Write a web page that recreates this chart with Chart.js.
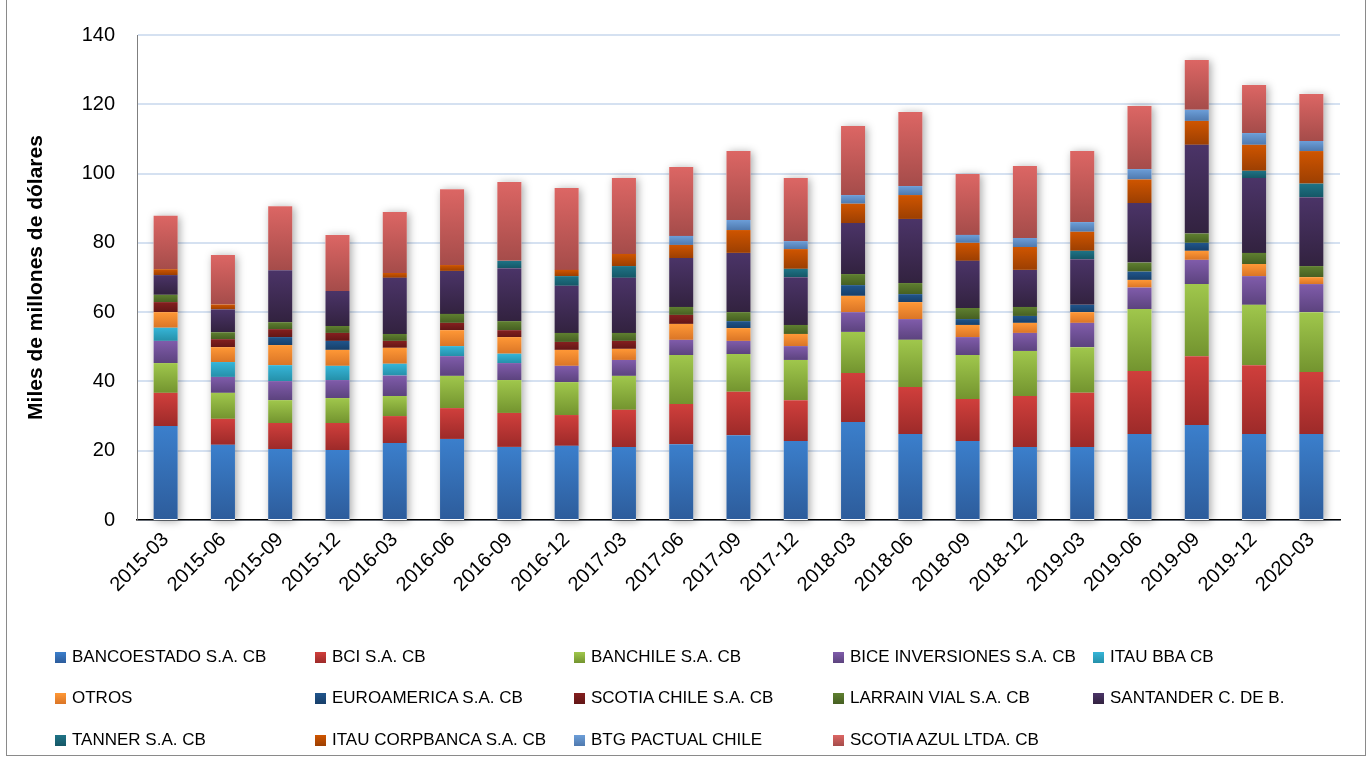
<!DOCTYPE html>
<html>
<head>
<meta charset="utf-8">
<script src="https://cdn.jsdelivr.net/npm/chart.js@4.4.1/dist/chart.umd.min.js"></script>
<style>
  html, body { margin: 0; padding: 0; background: #fff; }
  #wrap { position: relative; width: 1372px; height: 758px; overflow: hidden; font-family: "Liberation Sans", Arial, sans-serif; }
  #frame { position: absolute; left: 6px; top: -2px; width: 1360px; height: 758px; border: 1px solid #8a8a8a; box-sizing: border-box; }
  #chartBox { position: absolute; left: 0; top: 0; width: 1372px; height: 620px; }
  #legend { position: absolute; left: 0; top: 0; width: 1372px; height: 758px; pointer-events: none; }
  .item { position: absolute; display: flex; align-items: center; font-size: 17px; color: #000; white-space: nowrap; transform: translateY(-50%); }
  .box { width: 11px; height: 11px; margin-right: 6px; }
</style>
</head>
<body>
<div id="wrap">
  <div id="frame"></div>
  <div id="chartBox"><canvas id="stackChart" width="1372" height="620"></canvas></div>
  <div id="legend"></div>
</div>
<script>
// Trimestres
const labels = ['2015-03', '2015-06', '2015-09', '2015-12', '2016-03', '2016-06', '2016-09', '2016-12',
    '2017-03', '2017-06', '2017-09', '2017-12', '2018-03', '2018-06', '2018-09', '2018-12',
    '2019-03', '2019-06', '2019-09', '2019-12', '2020-03'];

// Miles de millones de dólares por corredora
const bancoEstado = [27.1, 21.7, 20.5, 20.2, 22.2, 23.4, 21.1, 21.4, 21.1, 21.9, 24.5, 22.8, 28.3, 24.8, 22.8, 21.1, 21.1, 24.8, 27.4, 24.8, 24.8];
const bci = [9.6, 7.5, 7.5, 7.8, 7.8, 8.9, 9.8, 8.9, 10.7, 11.6, 12.5, 11.8, 14.1, 13.6, 12.1, 14.7, 15.6, 18.2, 19.9, 19.9, 17.9];
const banchile = [8.6, 7.5, 6.6, 7.2, 5.8, 9.3, 9.5, 9.5, 9.8, 14.1, 10.9, 11.6, 11.9, 13.6, 12.7, 13.0, 13.2, 17.9, 20.8, 17.4, 17.3];
const bice = [6.4, 4.6, 5.5, 5.2, 5.9, 5.7, 4.9, 4.7, 4.6, 4.4, 3.8, 4.0, 5.7, 6.0, 5.2, 5.2, 7.0, 6.2, 7.0, 8.3, 8.1];
const itauBba = [3.8, 4.3, 4.6, 4.1, 3.4, 2.9, 2.7, 0, 0, 0, 0, 0, 0, 0, 0, 0, 0, 0, 0, 0, 0];
const otros = [4.5, 4.3, 5.8, 4.6, 4.6, 4.6, 4.8, 4.6, 3.2, 4.6, 3.7, 3.5, 4.7, 4.9, 3.5, 2.9, 3.1, 2.2, 2.6, 3.5, 2.0];
const euroamerica = [0, 0, 2.3, 2.6, 0, 0, 0, 0, 0, 0, 2.0, 0, 3.1, 2.3, 1.7, 2.0, 2.1, 2.4, 2.3, 0, 0];
const scotiaChile = [2.9, 2.3, 2.3, 2.3, 2.0, 2.1, 2.0, 2.3, 2.3, 2.6, 0, 0, 0, 0, 0, 0, 0, 0, 0, 0, 0];
const larrainVial = [2.1, 2.0, 2.0, 2.0, 2.0, 2.6, 2.6, 2.6, 2.3, 2.3, 2.6, 2.6, 3.2, 3.2, 3.2, 2.6, 0, 2.6, 2.7, 3.2, 3.2];
const santander = [5.7, 6.6, 15.0, 10.1, 16.2, 12.4, 15.3, 13.6, 15.9, 14.1, 17.1, 13.8, 14.7, 18.5, 13.6, 10.7, 13.2, 17.2, 25.6, 21.6, 19.9];
const tanner = [0, 0, 0, 0, 0, 0, 2.1, 2.8, 3.4, 0, 0, 2.4, 0, 0, 0, 0, 2.4, 0, 0, 2.1, 3.9];
const itauCorpbanca = [1.7, 1.4, 0, 0, 1.4, 1.7, 0, 1.8, 3.5, 3.8, 6.6, 5.7, 5.6, 6.9, 5.2, 6.6, 5.5, 6.8, 6.9, 7.5, 9.4];
const btgPactual = [0, 0, 0, 0, 0, 0, 0, 0, 0, 2.6, 2.9, 2.3, 2.5, 2.6, 2.3, 2.6, 2.8, 3.0, 3.2, 3.4, 2.9];
const scotiaAzul = [15.4, 14.3, 18.5, 16.2, 17.6, 21.9, 22.8, 23.6, 21.9, 19.9, 19.9, 18.2, 19.9, 21.4, 17.6, 20.8, 20.5, 18.2, 14.4, 13.9, 13.6];

const seriesNames = ['BANCOESTADO S.A. CB', 'BCI S.A. CB', 'BANCHILE S.A. CB', 'BICE INVERSIONES S.A. CB', 'ITAU BBA CB',
    'OTROS', 'EUROAMERICA S.A. CB', 'SCOTIA CHILE S.A. CB', 'LARRAIN VIAL S.A. CB', 'SANTANDER C. DE B.',
    'TANNER S.A. CB', 'ITAU CORPBANCA S.A. CB', 'BTG PACTUAL CHILE', 'SCOTIA AZUL LTDA. CB'];
const seriesValues = [bancoEstado, bci, banchile, bice, itauBba, otros, euroamerica, scotiaChile,
    larrainVial, santander, tanner, itauCorpbanca, btgPactual, scotiaAzul];

// top / bottom gradient colours (Excel style)
const colours = [
    ['#3b7fcc', '#2d5c9b'], ['#d03f3c', '#9d2a29'], ['#a0c74c', '#73942f'], ['#805cab', '#5c437e'],
    ['#36b5d8', '#2590a9'], ['#ff9836', '#da7526'], ['#20558c', '#173f69'], ['#851f1f', '#621616'],
    ['#5f8030', '#465f22'], ['#4b3468', '#32223f'], ['#1f7386', '#155766'], ['#cf5500', '#9c3f02'],
    ['#6c9ed8', '#4f79ae'], ['#dc6664', '#a54c4a']
];

function gradientFor(ctx, dsIndex) {
    const chart = ctx.chart;
    const yScale = chart.scales.y;
    if (!yScale || !chart.chartArea) return colours[dsIndex][0];
    const i = ctx.dataIndex;
    let base = 0;
    for (let d = 0; d < dsIndex; d++) base += seriesValues[d][i];
    const top = base + seriesValues[dsIndex][i];
    const y0 = yScale.getPixelForValue(top);
    const y1 = yScale.getPixelForValue(base);
    if (!isFinite(y0) || !isFinite(y1) || y0 === y1) return colours[dsIndex][0];
    const g = chart.ctx.createLinearGradient(0, y0, 0, y1);
    g.addColorStop(0, colours[dsIndex][0]);
    g.addColorStop(1, colours[dsIndex][1]);
    return g;
}

const datasets = seriesNames.map(function (name, k) {
    return {
        label: name,
        data: seriesValues[k],
        backgroundColor: function (ctx) { return gradientFor(ctx, k); },
        borderWidth: 0,
        barPercentage: 0.84,
        categoryPercentage: 0.5
    };
});

// soft shadow behind each whole stack
const stackShadow = {
    id: 'stackShadow',
    beforeDatasetsDraw(chart) {
        const ctx = chart.ctx;
        const meta0 = chart.getDatasetMeta(0);
        const y = chart.scales.y;
        ctx.save();
        ctx.shadowColor = 'rgba(0,0,0,0.35)';
        ctx.shadowBlur = 8;
        ctx.shadowOffsetX = 2;
        ctx.shadowOffsetY = 1;
        ctx.fillStyle = '#ffffff';
        meta0.data.forEach(function (bar, i) {
            let total = 0;
            seriesValues.forEach(function (s) { total += s[i]; });
            const top = y.getPixelForValue(total);
            const w = bar.width;
            ctx.fillRect(bar.x - w / 2, top, w, y.getPixelForValue(0) - top);
        });
        ctx.restore();
    }
};

new Chart(document.getElementById('stackChart').getContext('2d'), {
    type: 'bar',
    data: { labels: labels, datasets: datasets },
    plugins: [stackShadow],
    options: {
        responsive: false,
        animation: false,
        layout: { padding: { left: 24, right: 32, top: 35, bottom: 0 } },
        plugins: { legend: { display: false }, tooltip: { enabled: false } },
        scales: {
            x: {
                stacked: true,
                grid: { display: false },
                border: { color: '#000', width: 1.5 },
                ticks: { color: '#000', font: { size: 20, family: 'Liberation Sans' }, minRotation: 45, maxRotation: 45, padding: 0 },
                afterFit: function (s) { s.height = 100; }
            },
            y: {
                stacked: true,
                min: 0,
                max: 140,
                ticks: { stepSize: 20, color: '#000', font: { size: 20, family: 'Liberation Sans' }, padding: 22 },
                grid: { color: '#d5e1f1', lineWidth: 2, drawTicks: false },
                border: { color: '#7f7f7f', width: 1 },
                title: { display: true, text: 'Miles de millones de dólares', color: '#000', font: { size: 21, weight: 'bold', family: 'Liberation Sans' }, padding: 0 },
                afterFit: function (s) { s.width = 113; }
            }
        }
    }
});

// legend grid (5 columns, 3 rows)
const legendX = [55, 315, 574, 833, 1093];
const legendY = [657, 698, 740];
const legendEl = document.getElementById('legend');
seriesNames.forEach(function (name, k) {
    const item = document.createElement('div');
    item.className = 'item';
    item.style.left = legendX[k % 5] + 'px';
    item.style.top = legendY[Math.floor(k / 5)] + 'px';
    item.innerHTML = '<span class="box" style="background:linear-gradient(' + colours[k][0] + ',' + colours[k][1] + ')"></span>' + name;
    legendEl.appendChild(item);
});
</script>
</body>
</html>
